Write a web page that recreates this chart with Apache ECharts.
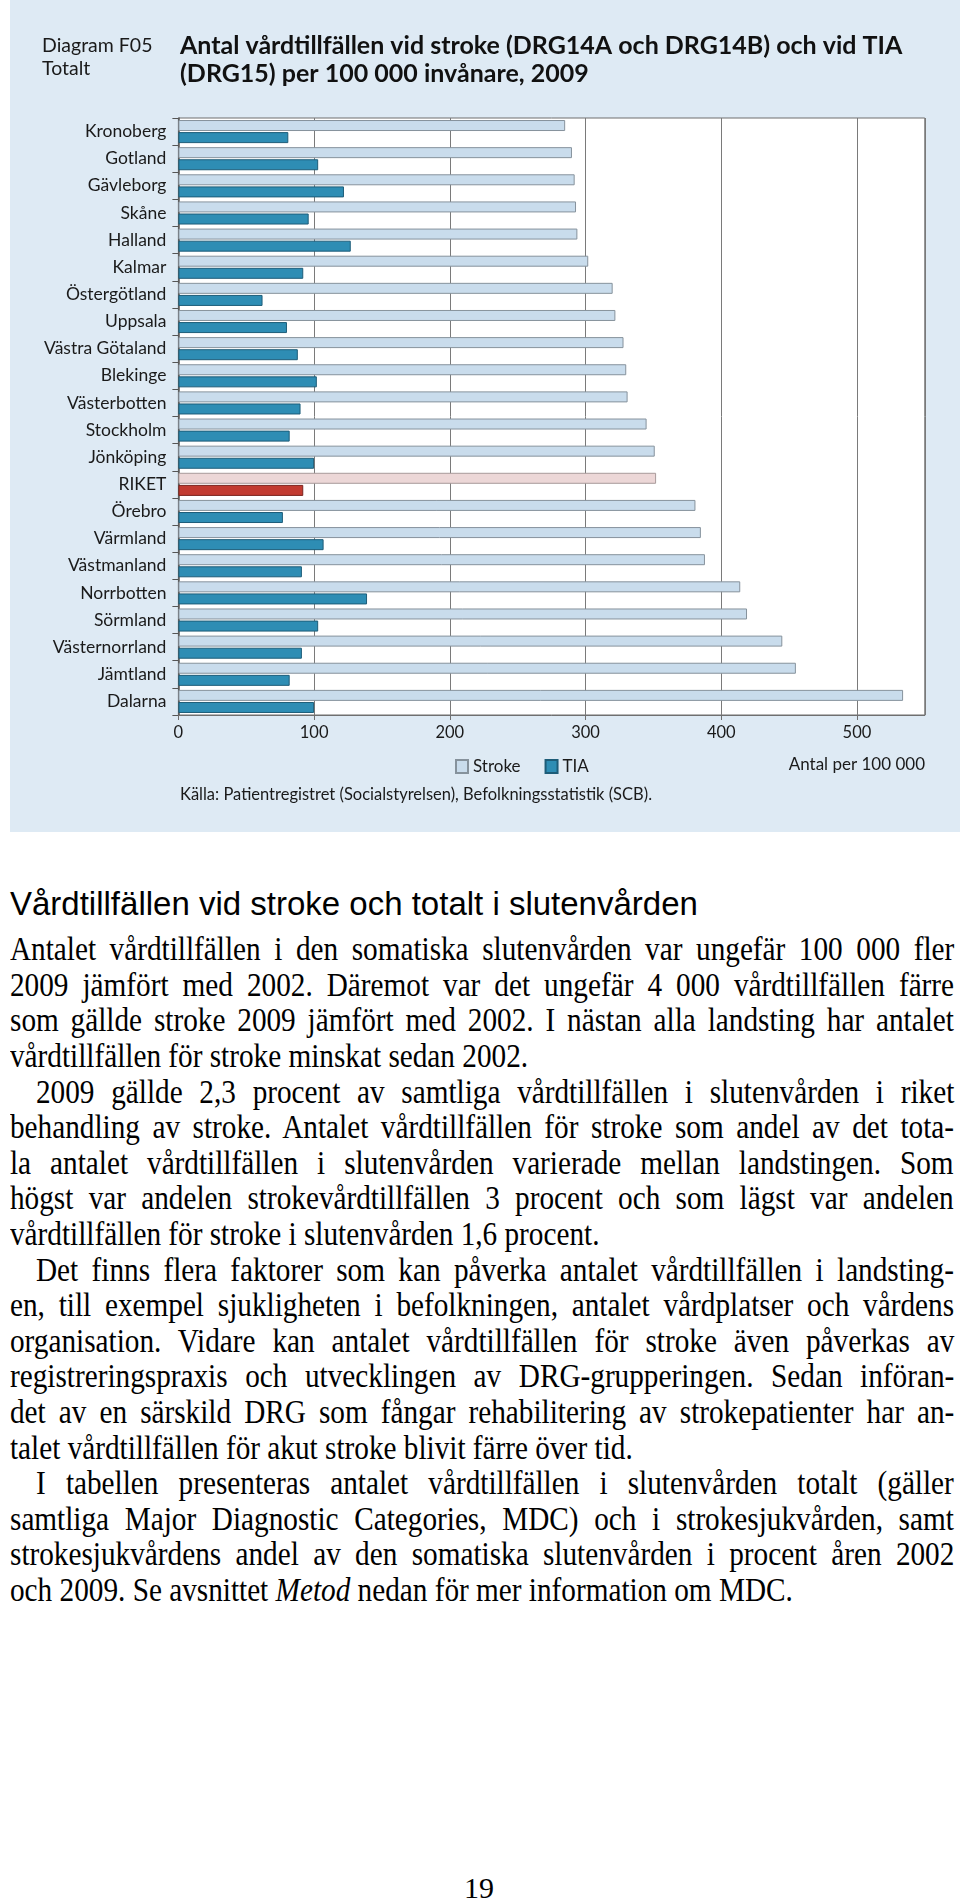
<!DOCTYPE html>
<html>
<head>
<meta charset="utf-8">
<script src="https://cdn.jsdelivr.net/npm/echarts@6/dist/echarts.min.js"></script>
<style>
  html, body { margin: 0; padding: 0; background: #fff; }
  body { width: 960px; height: 1903px; position: relative; overflow: hidden; }
  #chart { position: absolute; left: 10px; top: 0; width: 950px; height: 832px; }
  .head { position: absolute; left: 10px; top: 884px; font-family: "Liberation Sans", Arial, sans-serif; font-size: 33px; line-height: 40px; color: #000; white-space: nowrap; }
  .bl { position: absolute; left: 10px; white-space: nowrap; transform: scaleX(0.86); transform-origin: 0 0;
        font-family: "Liberation Serif", "Times New Roman", serif; font-size: 34px; line-height: 35.6px; color: #000; }
  .bl span { display: inline-block; }
  .pnum { position: absolute; left: 0; width: 958px; text-align: center; top: 1870px; font-family: "Liberation Serif", serif; font-size: 30px; line-height: 36px; color: #000; }
</style>
</head>
<body>
<div id="chart"></div>
<div class="head">Vårdtillfällen vid stroke och totalt i slutenvården</div>
<div id="bodytext"></div>
<div class="pnum">19</div>
<script>
// ---- chart data ----
const categories = ['Kronoberg','Gotland','Gävleborg','Skåne','Halland','Kalmar','Östergötland','Uppsala','Västra Götaland','Blekinge','Västerbotten','Stockholm','Jönköping','RIKET','Örebro','Värmland','Västmanland','Norrbotten','Sörmland','Västernorrland','Jämtland','Dalarna'];
const strokeValues = [285,290,292,293,294,302,320,322,328,330,331,345,351,352,381,385,388,414,419,445,455,534];
const tiaValues = [81,103,122,96,127,92,62,80,88,102,90,82,100,92,77,107,91,139,103,91,82,100];
const seriesNames = ['Stroke','TIA'];
const highlightCategory = 'RIKET';
const xMin = 0, xMax = 550, xStep = 100;

// ---- text ----
const titleLeft = 'Diagram F05\nTotalt';
const titleMain = 'Antal vårdtillfällen vid stroke (DRG14A och DRG14B) och vid TIA\n(DRG15) per 100 000 invånare, 2009';
const sourceText = 'Källa: Patientregistret (Socialstyrelsen), Befolkningsstatistik (SCB).';
const unitText = 'Antal per 100 000';

const bodyLines = [
  ['Antalet vårdtillfällen i den somatiska slutenvården var ungefär 100 000 fler', 0, 1],
  ['2009 jämfört med 2002. Däremot var det ungefär 4 000 vårdtillfällen färre', 0, 1],
  ['som gällde stroke 2009 jämfört med 2002. I nästan alla landsting har antalet', 0, 1],
  ['vårdtillfällen för stroke minskat sedan 2002.', 0, 0],
  ['2009 gällde 2,3 procent av samtliga vårdtillfällen i slutenvården i riket', 1, 1],
  ['behandling av stroke. Antalet vårdtillfällen för stroke som andel av det tota-', 0, 1],
  ['la antalet vårdtillfällen i slutenvården varierade mellan landstingen. Som', 0, 1],
  ['högst var andelen strokevårdtillfällen 3 procent och som lägst var andelen', 0, 1],
  ['vårdtillfällen för stroke i slutenvården 1,6 procent.', 0, 0],
  ['Det finns flera faktorer som kan påverka antalet vårdtillfällen i landsting-', 1, 1],
  ['en, till exempel sjukligheten i befolkningen, antalet vårdplatser och vårdens', 0, 1],
  ['organisation. Vidare kan antalet vårdtillfällen för stroke även påverkas av', 0, 1],
  ['registreringspraxis och utvecklingen av DRG-grupperingen. Sedan införan-', 0, 1],
  ['det av en särskild DRG som fångar rehabilitering av strokepatienter har an-', 0, 1],
  ['talet vårdtillfällen för akut stroke blivit färre över tid.', 0, 0],
  ['I tabellen presenteras antalet vårdtillfällen i slutenvården totalt (gäller', 1, 1],
  ['samtliga Major Diagnostic Categories, MDC) och i strokesjukvården, samt', 0, 1],
  ['strokesjukvårdens andel av den somatiska slutenvården i procent åren 2002', 0, 1],
  ['och 2009. Se avsnittet <i>Metod</i> nedan för mer information om MDC.', 0, 0]
];

// ---- body text layout ----
(function () {
  const S = 0.86, W = 944, IND = 26, LH = 35.6, firstTop = 949 - LH / 2;
  const host = document.getElementById('bodytext');
  bodyLines.forEach((ln, i) => {
    const d = document.createElement('div');
    d.className = 'bl';
    d.style.top = (firstTop + i * LH) + 'px';
    const sp = document.createElement('span');
    sp.innerHTML = ln[0];
    d.appendChild(sp);
    host.appendChild(d);
    const indent = ln[1] ? IND : 0;
    sp.style.marginLeft = (indent / S) + 'px';
    if (ln[2]) {
      const w = sp.offsetWidth;
      const n = (ln[0].match(/ /g) || []).length;
      const extra = (W - indent) / S - w;
      if (n > 0) sp.style.wordSpacing = (extra / n) + 'px';
    }
  });
})();

// ---- chart ----
const FONT = 'Lato';
const strokeColor = '#c9dcec', strokeBorder = '#86929c';
const tiaColor = '#2e8db4', tiaBorder = '#1d5c78';
const rikStroke = '#ecd7d7', rikTia = '#c23b30';

const chart = echarts.init(document.getElementById('chart'), null, { renderer: 'canvas' });
chart.setOption({
  backgroundColor: '#deeaf4',
  animation: false,
  textStyle: { fontFamily: FONT },
  title: [
    { text: titleLeft, left: 32, top: 34, padding: 0,
      textStyle: { fontFamily: FONT, fontSize: 19.5, fontWeight: 'normal', lineHeight: 23, color: '#1a1a1a' } },
    { text: titleMain, left: 170, top: 31.5, padding: 0,
      textStyle: { fontFamily: FONT, fontSize: 25, fontWeight: 'bold', lineHeight: 28, color: '#111' } },
    { text: sourceText, left: 170, top: 785, padding: 0,
      textStyle: { fontFamily: FONT, fontSize: 16.5, fontWeight: 'normal', lineHeight: 20, color: '#1a1a1a' } },
    { text: unitText, right: 35, top: 755, padding: 0,
      textStyle: { fontFamily: FONT, fontSize: 17, fontWeight: 'normal', lineHeight: 20, color: '#1a1a1a' } }
  ],
  legend: {
    data: seriesNames,
    left: 445, top: 758, padding: 0,
    itemWidth: 12, itemHeight: 13, itemGap: 24,
    icon: 'rect',
    textStyle: { fontFamily: FONT, fontSize: 17, color: '#1a1a1a' }
  },
  grid: {
    left: 168.4, right: 35.2, top: 118, bottom: 117,
    show: true, backgroundColor: '#ffffff', borderColor: '#6f6f6f', borderWidth: 1,
    containLabel: false
  },
  xAxis: {
    type: 'value', min: xMin, max: xMax, interval: xStep,
    axisLine: { show: true, lineStyle: { color: '#6f6f6f', width: 1 } },
    axisTick: { show: true, length: 5, lineStyle: { color: '#6f6f6f' } },
    axisLabel: { margin: 9, fontFamily: FONT, fontSize: 16.5, color: '#1a1a1a', showMaxLabel: false },
    splitLine: { show: true, lineStyle: { color: '#7a7a7a', width: 1 } }
  },
  yAxis: {
    type: 'category', data: categories, inverse: true,
    axisLine: { show: true, lineStyle: { color: '#555', width: 1.5 } },
    axisTick: { show: true, length: 6, lineStyle: { color: '#555' } },
    axisLabel: { margin: 12, fontFamily: FONT, fontSize: 17.5, color: '#1a1a1a' },
    splitLine: { show: false }
  },
  series: [
    {
      name: seriesNames[0], type: 'bar', barWidth: 11, barGap: '10%',
      itemStyle: { color: strokeColor, borderColor: strokeBorder, borderWidth: 1 },
      data: strokeValues.map((v, i) => categories[i] === highlightCategory
        ? { value: v, itemStyle: { color: rikStroke, borderColor: '#a89a9a' } } : v)
    },
    {
      name: seriesNames[1], type: 'bar', barWidth: 11, barGap: '10%',
      itemStyle: { color: tiaColor, borderColor: tiaBorder, borderWidth: 1 },
      data: tiaValues.map((v, i) => categories[i] === highlightCategory
        ? { value: v, itemStyle: { color: rikTia, borderColor: '#7a231c' } } : v)
    }
  ]
});
</script>
</body>
</html>
